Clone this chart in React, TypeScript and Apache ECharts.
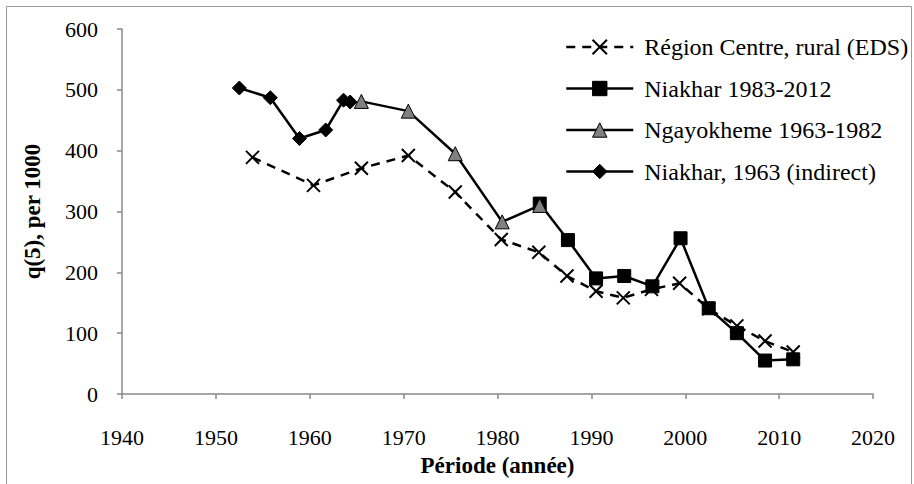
import React, { useEffect, useRef } from "react";
import * as echarts from "echarts";

const seriesNames = [
  "Région Centre, rural (EDS)",
  "Niakhar 1983-2012",
  "Ngayokheme 1963-1982",
  "Niakhar, 1963 (indirect)",
];

const regionCentre: [number, number][] = [
  [1953.9, 389], [1960.4, 343], [1965.5, 371], [1970.5, 392], [1975.5, 332],
  [1980.4, 254], [1984.4, 233], [1987.4, 194], [1990.5, 169], [1993.4, 158],
  [1996.4, 172], [1999.4, 182], [2002.5, 140], [2005.5, 112], [2008.5, 87],
  [2011.5, 69],
];

const niakhar8312: [number, number][] = [
  [1984.5, 313], [1987.5, 253], [1990.5, 190], [1993.5, 194], [1996.5, 177],
  [1999.5, 256], [2002.5, 141], [2005.5, 100], [2008.5, 55], [2011.5, 57],
];

const ngayokheme: [number, number][] = [
  [1965.5, 481], [1970.5, 465], [1975.5, 395], [1980.5, 283], [1984.5, 310],
];

const niakhar63: [number, number][] = [
  [1952.5, 503], [1955.8, 487], [1958.9, 420], [1961.7, 434], [1963.6, 483],
  [1964.3, 480],
];

const xAxisTitle = "Période (année)";
const yAxisTitle = "q(5), per 1000";

const CROSS = "path://M0,0L10,10M10,0L0,10";
const FONT = "Liberation Serif";

export default function App() {
  const ref = useRef<HTMLDivElement>(null);
  useEffect(() => {
    if (!ref.current) return;
    const chart = echarts.init(ref.current, undefined, { renderer: "svg" });
    const lw = 2.5;
    chart.setOption({
      animation: false,
      backgroundColor: "#ffffff",
      textStyle: { fontFamily: FONT },
      graphic: [
        {
          type: "rect",
          shape: { x: 6.5, y: 6.5, width: 905, height: 500 },
          style: { fill: "none", stroke: "#9a9a9a", lineWidth: 1 },
          silent: true,
        },
      ],
      grid: { left: 122, right: 41, top: 29, bottom: 90, containLabel: false },
      legend: {
        left: 565,
        top: 35,
        padding: 0,
        orient: "vertical",
        itemWidth: 67,
        itemHeight: 18,
        itemGap: 17.5,
        textStyle: {
          fontFamily: FONT, fontSize: 24, color: "#000", lineHeight: 24,
          padding: [0, 0, 0, 6],
        },
        data: [
          {
            name: seriesNames[0],
            itemStyle: { color: "#000", borderColor: "#000", borderWidth: 2 },
            lineStyle: { color: "#000", width: lw, type: [9, 7] },
          },
          {
            name: seriesNames[1],
            itemStyle: { color: "#000", borderColor: "#000", borderWidth: 1 },
            lineStyle: { color: "#000", width: lw, type: "solid" },
          },
          {
            name: seriesNames[2],
            itemStyle: { color: "#808080", borderColor: "#000", borderWidth: 1 },
            lineStyle: { color: "#000", width: lw, type: "solid" },
          },
          {
            name: seriesNames[3],
            itemStyle: { color: "#000", borderColor: "#000", borderWidth: 1 },
            lineStyle: { color: "#000", width: lw, type: "solid" },
          },
        ],
      },
      xAxis: {
        type: "value",
        min: 1940,
        max: 2020,
        interval: 10,
        name: xAxisTitle,
        nameLocation: "middle",
        nameGap: 60,
        nameTextStyle: { fontFamily: FONT, fontSize: 23, fontWeight: "bold", color: "#000" },
        axisLine: { show: true, lineStyle: { color: "#898989", width: 1.5 } },
        axisTick: { show: true, inside: false, length: 5, lineStyle: { color: "#898989", width: 1.5 } },
        axisLabel: {
          fontFamily: FONT, fontSize: 22, color: "#000", margin: 32,
          formatter: (v: number) => String(v),
        },
        splitLine: { show: false },
      },
      yAxis: {
        type: "value",
        min: 0,
        max: 600,
        interval: 100,
        name: yAxisTitle,
        nameLocation: "middle",
        nameGap: 78,
        nameTextStyle: { fontFamily: FONT, fontSize: 23, fontWeight: "bold", color: "#000" },
        axisLine: { show: true, lineStyle: { color: "#898989", width: 1.5 } },
        axisTick: { show: true, inside: false, length: 5, lineStyle: { color: "#898989", width: 1.5 } },
        axisLabel: { fontFamily: FONT, fontSize: 22, color: "#000", margin: 24 },
        splitLine: { show: false },
      },
      series: [
        {
          name: seriesNames[0],
          type: "line",
          data: regionCentre,
          symbol: CROSS,
          symbolSize: 13,
          lineStyle: { color: "#000", width: lw, type: [9, 7] },
          itemStyle: { color: "#000", borderColor: "#000", borderWidth: 2 },
          z: 2,
        },
        {
          name: seriesNames[1],
          type: "line",
          data: niakhar8312,
          symbol: "rect",
          symbolSize: 13,
          lineStyle: { color: "#000", width: lw },
          itemStyle: { color: "#000", borderColor: "#000", borderWidth: 1 },
          z: 3,
        },
        {
          name: seriesNames[2],
          type: "line",
          data: ngayokheme,
          symbol: "triangle",
          symbolSize: 14,
          lineStyle: { color: "#000", width: lw },
          itemStyle: { color: "#808080", borderColor: "#000", borderWidth: 1 },
          z: 4,
        },
        {
          name: seriesNames[3],
          type: "line",
          data: niakhar63,
          symbol: "diamond",
          symbolSize: 14,
          lineStyle: { color: "#000", width: lw },
          itemStyle: { color: "#000", borderColor: "#000", borderWidth: 1 },
          z: 5,
        },
      ],
    });
    return () => chart.dispose();
  }, []);
  return (
    <div
      ref={ref}
      style={{ position: "absolute", left: 0, top: 0, width: 914, height: 484 }}
    />
  );
}
